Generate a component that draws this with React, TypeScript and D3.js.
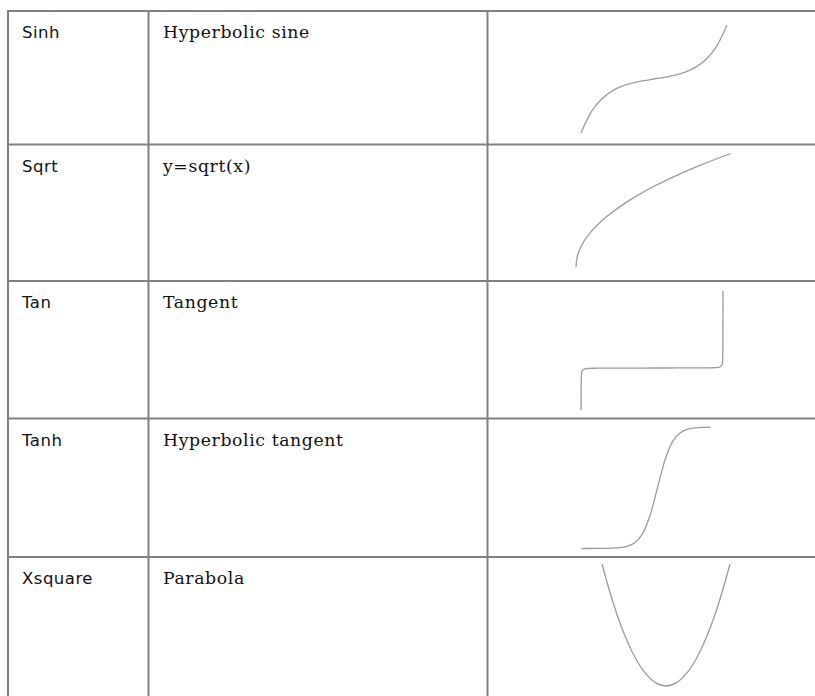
import React from 'react';
import * as d3 from 'd3';

// table content
const functionNames = ['Sinh', 'Sqrt', 'Tan', 'Tanh', 'Xsquare'];
const descriptions = ['Hyperbolic sine', 'y=sqrt(x)', 'Tangent', 'Hyperbolic tangent', 'Parabola'];

// curve samples
const sinhX = [-3.5, -3, -2.5, -2, -1.5, -1, -0.5, 0, 0.5, 1, 1.5, 2, 2.5, 3, 3.5];
const sinhY = [-16.54, -10.02, -6.05, -3.63, -2.13, -1.18, -0.52, 0, 0.52, 1.18, 2.13, 3.63, 6.05, 10.02, 16.54];

const sqrtX = [0, 0.05, 0.1, 0.25, 0.5, 1, 1.5, 2, 3, 4, 5, 6, 7, 8, 9, 10];
const sqrtY = [0, 0.22, 0.32, 0.5, 0.71, 1, 1.22, 1.41, 1.73, 2, 2.24, 2.45, 2.65, 2.83, 3, 3.16];

const tanX = [-1.5691, -1.568, -1.566, -1.563, -1.56, -1.555, -1.55, -1.5, -1.4, -1.2, -0.8, -0.4, 0, 0.4, 0.8, 1.2, 1.4, 1.5, 1.55, 1.555, 1.56, 1.563, 1.566, 1.568, 1.5699];
const tanY = [-588, -357, -208, -128, -93, -63, -48, -14.1, -5.8, -2.57, -1.03, -0.42, 0, 0.42, 1.03, 2.57, 5.8, 14.1, 48, 63, 93, 128, 208, 357, 1075];

const tanhX = [-5, -4, -3, -2.5, -2, -1.5, -1, -0.5, 0, 0.5, 1, 1.5, 2, 2.5, 3, 3.5];
const tanhY = [-0.9999, -0.9993, -0.995, -0.987, -0.964, -0.905, -0.762, -0.462, 0, 0.462, 0.762, 0.905, 0.964, 0.987, 0.995, 0.998];

const xsqX = [-3, -2.5, -2, -1.5, -1, -0.5, 0, 0.5, 1, 1.5, 2, 2.5, 3];
const xsqY = [9, 6.25, 4, 2.25, 1, 0.25, 0, 0.25, 1, 2.25, 4, 6.25, 9];

const curves = [
  { xs: sinhX, ys: sinhY, xDomain: [-3.5, 3.5], yDomain: [-16.54, 16.54], box: [581, 727, 25, 133] },
  { xs: sqrtX, ys: sqrtY, xDomain: [0, 10], yDomain: [0, 3.16], box: [576, 731, 153.5, 267] },
  { xs: tanX, ys: tanY, xDomain: [-1.5708, 1.5708], yDomain: [-600, 1075], box: [581, 723, 291, 411] },
  { xs: tanhX, ys: tanhY, xDomain: [-5, 3.5], yDomain: [-1, 1], box: [581.5, 710.7, 427, 548.5] },
  { xs: xsqX, ys: xsqY, xDomain: [-3, 3], yDomain: [0, 9], box: [602, 730, 564, 686] },
];

const W = 815;
const H = 696;
const rowBounds = [11, 144.5, 281, 418.5, 557, 696];
const colX = [8, 148.5, 487.5];
const gridColor = '#808080';

const App: React.FC = () => {
  const line = d3.line<[number, number]>().curve(d3.curveCatmullRom.alpha(0.5));

  return (
    <div style={{ position: 'fixed', left: 0, top: 0, width: W, height: H, background: '#fff' }}>
      <svg width={W} height={H} style={{ display: 'block' }}>
        <rect width={W} height={H} fill="#fff" />

        {functionNames.map((name, i) => {
          const top = rowBounds[i];
          return (
            <g key={name}>
              <text
                x={22}
                y={top + 27}
                fontFamily="'DejaVu Sans', sans-serif"
                fontSize={16.5}
                letterSpacing={0.5}
                fill="#111"
              >
                {name}
              </text>
              <text
                x={163}
                y={top + 27.3}
                fontFamily="'DejaVu Serif', serif"
                fontSize={17.3}
                letterSpacing={0.6}
                fill="#111"
              >
                {descriptions[i]}
              </text>
            </g>
          );
        })}

        {curves.map((c, i) => {
          const x = d3.scaleLinear().domain(c.xDomain).range([c.box[0], c.box[1]]);
          const y = d3.scaleLinear().domain(c.yDomain).range([c.box[3], c.box[2]]);
          const pts = c.xs.map((v, k) => [x(v), y(c.ys[k])] as [number, number]);
          return (
            <path key={i} d={line(pts) || ''} fill="none" stroke="#9c9c9c" strokeWidth={1.3} />
          );
        })}

        {rowBounds.slice(0, 5).map((y, i) => (
          <line key={'h' + i} x1={colX[0] - 1} x2={W} y1={y} y2={y} stroke={gridColor} strokeWidth={2} />
        ))}
        {colX.map((x, i) => (
          <line key={'v' + i} x1={x} x2={x} y1={rowBounds[0] - 1} y2={H} stroke={gridColor} strokeWidth={2} />
        ))}
      </svg>
    </div>
  );
};

export default App;
